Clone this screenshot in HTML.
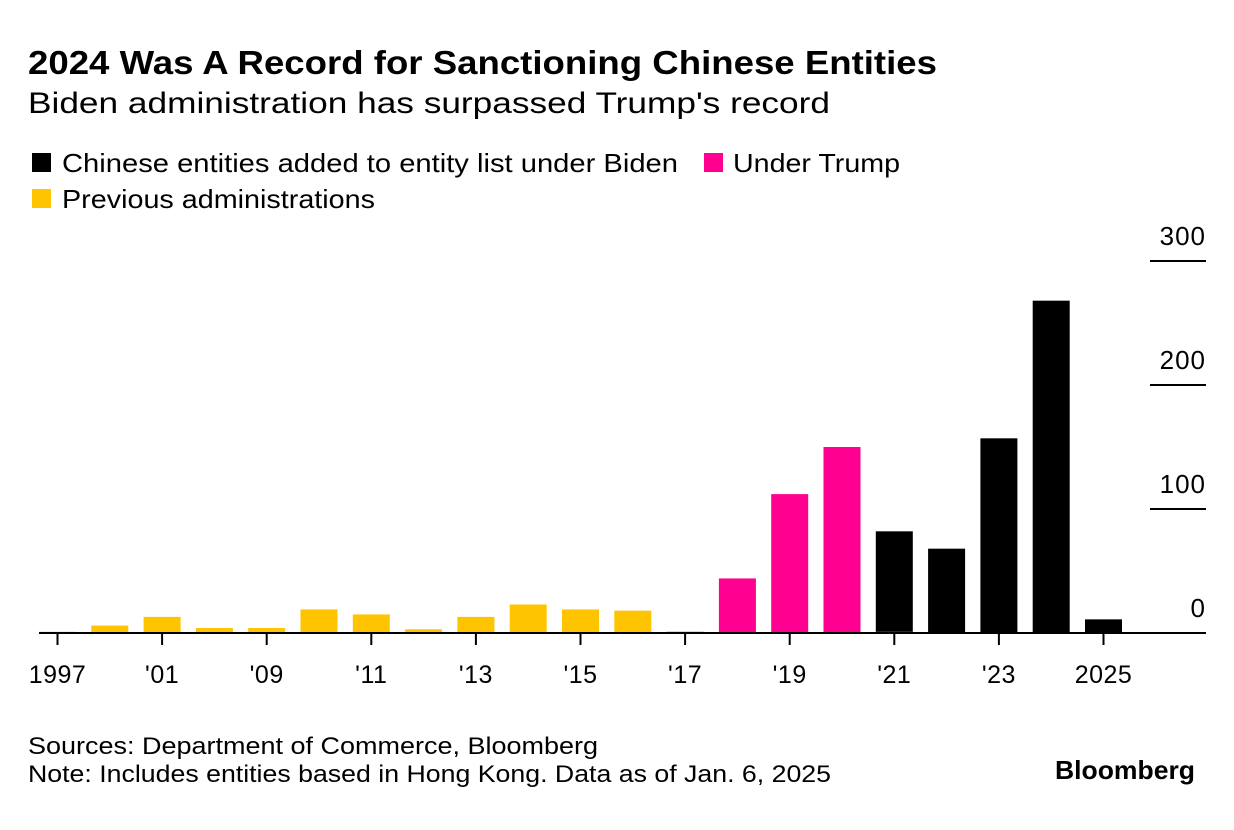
<!DOCTYPE html>
<html><head><meta charset="utf-8"><style>
body{margin:0;background:#fff;font-family:"Liberation Sans",sans-serif;color:#000}
svg{display:block}
</style></head><body>
<svg width="1234" height="830" xmlns="http://www.w3.org/2000/svg" font-family="Liberation Sans, sans-serif">
<text x="28" y="74" font-size="33" font-weight="bold" textLength="909" lengthAdjust="spacingAndGlyphs">2024 Was A Record for Sanctioning Chinese Entities</text>
<text x="28" y="113" font-size="30" textLength="802" lengthAdjust="spacingAndGlyphs">Biden administration has surpassed Trump's record</text>
<rect x="32" y="153" width="19" height="19" fill="#000"/>
<text x="62" y="172" font-size="26" textLength="616" lengthAdjust="spacingAndGlyphs">Chinese entities added to entity list under Biden</text>
<rect x="704" y="153" width="19" height="19" fill="#ff0090"/>
<text x="733" y="172" font-size="26" textLength="167" lengthAdjust="spacingAndGlyphs">Under Trump</text>
<rect x="32" y="189" width="19" height="19" fill="#ffc400"/>
<text x="62" y="208" font-size="26" textLength="313" lengthAdjust="spacingAndGlyphs">Previous administrations</text>
<g id="plot"></g>
<text x="28" y="754" font-size="24" textLength="570" lengthAdjust="spacingAndGlyphs">Sources: Department of Commerce, Bloomberg</text>
<text x="28" y="782" font-size="24" textLength="803" lengthAdjust="spacingAndGlyphs">Note: Includes entities based in Hong Kong. Data as of Jan. 6, 2025</text>
<text x="1055" y="779" font-size="26" font-weight="bold" textLength="140" lengthAdjust="spacingAndGlyphs">Bloomberg</text>
</svg>
<script>
const categories=["1997","2000","'01","'08","'09","'10","'11","'12","'13","'14","'15","'16","'17","'18","'19","'20","'21","'22","'23","'24","2025"];
const previousValues=[1,6,13,4,4,19,15,3,13,23,19,18,0,0,0,0,0,0,0,0,0];
const trumpValues=[0,0,0,0,0,0,0,0,0,0,0,0,1,44,112,150,1,0,0,0,0];
const bidenValues=[0,0,0,0,0,0,0,0,0,0,0,0,0,0,0,0,81,68,157,268,11];
const tickLabels=["1997","'01","'09","'11","'13","'15","'17","'19","'21","'23","2025"];
const yTicks=[0,100,200,300];
const NS="http://www.w3.org/2000/svg";
const g=document.getElementById('plot');
const y0=633,pxPer=1.24,x0=57.5,step=52.3,bw=37;
const X=i=>x0+i*step;
const Y=v=>y0-v*pxPer;
function el(t,a){const e=document.createElementNS(NS,t);for(const k in a)e.setAttribute(k,a[k]);g.appendChild(e);return e;}
yTicks.forEach(v=>{
  if(v>0){const l=el('line',{x1:1150,x2:1206,y1:Y(v),y2:Y(v),stroke:'#000','stroke-width':2});
  
  }
  const t=el('text',{x:1206,y:Y(v)-16,'font-size':26,'text-anchor':'end','letter-spacing':'1'});t.textContent=v;
  
  
});
categories.forEach((c,i)=>{
  let base=0;
  [[previousValues,'#ffc400','previous'],[trumpValues,'#ff0090','trump'],[bidenValues,'#000','biden']].forEach(([arr,col,nm])=>{
    const v=arr[i];if(!v)return;
    const r=el('rect',{x:X(i)-bw/2,y:Y(base+v),width:bw,height:v*pxPer,fill:col});
    
    
    base+=v;
  });
  if(tickLabels.includes(c)){
    const tk=el('line',{x1:X(i),x2:X(i),y1:y0,y2:y0+12,stroke:'#000','stroke-width':2});
    
    
    const t=el('text',{x:X(i),y:683,'font-size':25,'text-anchor':'middle','letter-spacing':'0.5'});t.textContent=c;
    
    
  }
});
const ax=el('line',{x1:39,x2:1206,y1:y0,y2:y0,stroke:'#000','stroke-width':2});


</script>
</body></html>
